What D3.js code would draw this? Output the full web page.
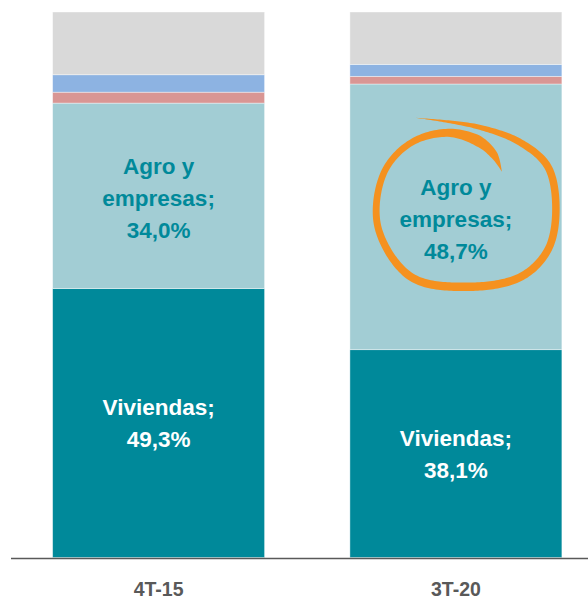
<!DOCTYPE html>
<html>
<head>
<meta charset="utf-8">
<script src="https://cdn.jsdelivr.net/npm/d3@7"></script>
<style>
  body { margin: 0; background: #fff; }
  svg { display: block; font-family: "Liberation Sans", Arial, sans-serif; }
</style>
</head>
<body>
<div id="chart"></div>
<script>
// Chart data
const categories = ["4T-15", "3T-20"];
const viviendas = [49.3, 38.1];
const agroEmpresas = [34.0, 48.7];
const serieRoja = [2.0, 1.4];
const serieAzul = [3.2, 2.2];
const serieGris = [11.5, 9.6];

const seriesKeys = ["viviendas", "agro", "roja", "azul", "gris"];
const seriesColors = ["#00899a", "#a2cdd4", "#d99694", "#8db3e2", "#d9d9d9"];

const width = 588, height = 600;

const svg = d3.select("#chart")
    .append("svg")
    .attr("width", width)
    .attr("height", height);

// Build rows for the stack
const rows = categories.map((c, i) => ({
    cat: c,
    viviendas: viviendas[i],
    agro: agroEmpresas[i],
    roja: serieRoja[i],
    azul: serieAzul[i],
    gris: serieGris[i]
}));

const stacked = d3.stack().keys(seriesKeys)(rows);

// Scales
const x = d3.scaleBand()
    .domain(categories)
    .range([11, 603.5])
    .paddingInner(0.287)
    .paddingOuter(0.14);

const y = d3.scaleLinear()
    .domain([0, 100])
    .range([557.5, 12]);

const color = d3.scaleOrdinal().domain(seriesKeys).range(seriesColors);

// Bars
svg.append("g")
    .selectAll("g")
    .data(stacked)
    .enter()
    .append("g")
    .attr("fill", d => color(d.key))
    .selectAll("rect")
    .data(d => d)
    .enter()
    .append("rect")
    .attr("x", d => x(d.data.cat))
    .attr("y", d => y(d[1]))
    .attr("width", x.bandwidth())
    .attr("height", d => y(d[0]) - y(d[1]))
    .attr("stroke", "#fff")
    .attr("stroke-opacity", 0.5)
    .attr("stroke-width", 0.8);

// Baseline
svg.append("line")
    .attr("x1", 11)
    .attr("x2", width)
    .attr("y1", y(0) + 1)
    .attr("y2", y(0) + 1)
    .attr("stroke", "#595959")
    .attr("stroke-width", 1.5);

// X axis labels
const xAxis = svg.append("g")
    .attr("transform", `translate(0,${y(0) + 1})`)
    .call(d3.axisBottom(x).tickSize(0).tickPadding(24));
xAxis.select(".domain").remove();
xAxis.selectAll("text")
    .attr("fill", "#595959")
    .style("font-size", "19.5px")
    .style("font-weight", "bold")
    .style("font-family", "'Liberation Sans Narrow', 'Arial Narrow', 'Liberation Sans', Arial, sans-serif");

// Segment labels
const fmt = v => d3.format(".1f")(v).replace(".", ",") + "%";
const lineGap = 32;

function addLabel(lines, cx, cy, fill) {
    const n = lines.length;
    const first = cy - (n - 1) * lineGap / 2 + 8;
    const t = svg.append("text")
        .attr("text-anchor", "middle")
        .attr("fill", fill)
        .style("font-size", "22.5px")
        .style("font-weight", "bold");
    lines.forEach((l, i) => {
        t.append("tspan")
            .attr("x", cx)
            .attr("y", first + i * lineGap)
            .text(l);
    });
}

categories.forEach((c, i) => {
    const cx = x(c) + x.bandwidth() / 2;
    const vMid = y(viviendas[i] / 2);
    addLabel(["Viviendas;", fmt(viviendas[i])], cx, vMid, "#ffffff");
    const aMid = y(viviendas[i] + agroEmpresas[i] / 2);
    addLabel(["Agro y", "empresas;", fmt(agroEmpresas[i])], cx, aMid + 2, "#00899a");
});

// Orange brush circle around the 3T-20 "Agro y empresas" label
const ringCx = x("3T-20") + x.bandwidth() / 2;
const ringCy = y(viviendas[1] + agroEmpresas[1] / 2);
const ringPts = [
    [-40, -99], [22, -90], [65, -74], [92, -50], [100, -7], [92, 33],
    [65, 60], [12, 70], [-45, 60], [-78, 10], [-72, -44], [-45, -74],
    [-8, -84], [22, -76], [38, -62], [46, -45]
];
const ringW = [0, 5, 7, 7.5, 7.5, 7.5, 8, 8.5, 8, 7, 6.5, 6.5, 8, 11, 8, 0];

// cumulative fractions of control points for width interpolation
const cum = [0];
for (let i = 1; i < ringPts.length; i++) {
    const dx = ringPts[i][0] - ringPts[i - 1][0];
    const dy = ringPts[i][1] - ringPts[i - 1][1];
    cum.push(cum[i - 1] + Math.hypot(dx, dy));
}
const total = cum[cum.length - 1];
const fracs = cum.map(c => c / total);
const widthAt = d3.scaleLinear().domain(fracs).range(ringW);

const guide = svg.append("path")
    .attr("d", d3.line().curve(d3.curveCatmullRom.alpha(0.5))(
        ringPts.map(p => [ringCx + p[0], ringCy + p[1]])))
    .attr("fill", "none");
const len = guide.node().getTotalLength();
const N = 300;
const samples = d3.range(N + 1).map(k => {
    const p = guide.node().getPointAtLength(len * k / N);
    return [p.x, p.y];
});
guide.remove();

const leftSide = [], rightSide = [];
samples.forEach((p, k) => {
    const a = samples[Math.max(0, k - 1)];
    const b = samples[Math.min(N, k + 1)];
    const dx = b[0] - a[0], dy = b[1] - a[1];
    const l = Math.hypot(dx, dy) || 1;
    const nx = -dy / l, ny = dx / l;
    const w = widthAt(k / N) / 2;
    leftSide.push([p[0] + nx * w, p[1] + ny * w]);
    rightSide.push([p[0] - nx * w, p[1] - ny * w]);
});
const outline = leftSide.concat(rightSide.reverse());

svg.append("path")
    .attr("d", "M" + outline.map(p => p.join(",")).join("L") + "Z")
    .attr("fill", "#f5911f");
</script>
</body>
</html>
